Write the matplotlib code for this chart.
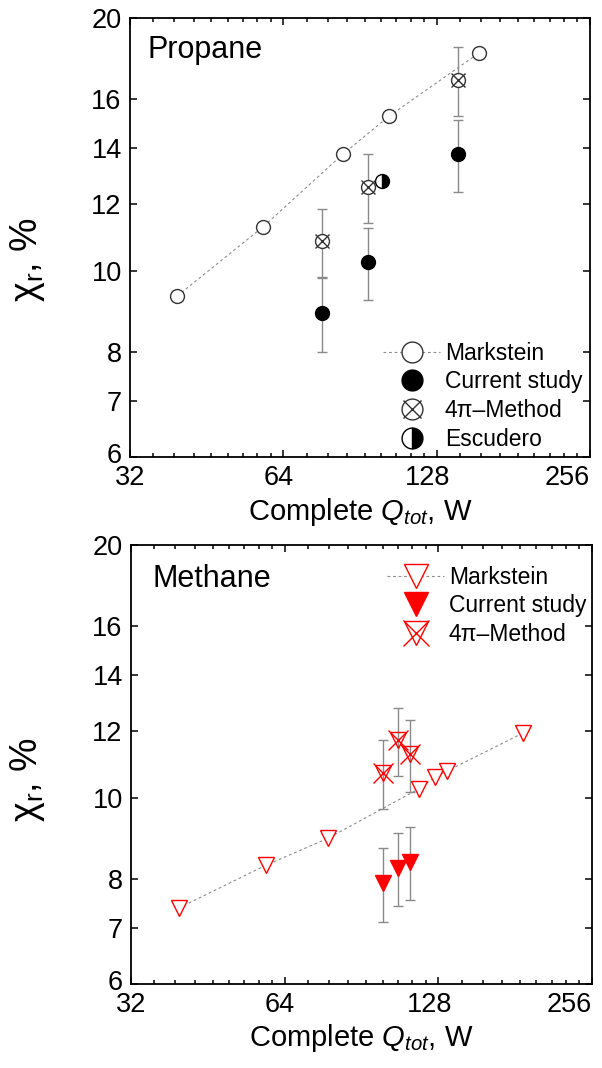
import matplotlib
matplotlib.use('Agg')
import matplotlib.pyplot as plt
from matplotlib.ticker import FixedLocator, FixedFormatter, NullFormatter, NullLocator
from matplotlib.lines import Line2D
from matplotlib.legend_handler import HandlerTuple
from matplotlib.transforms import ScaledTranslation

plt.rcParams['font.family'] = ['Liberation Sans', 'DejaVu Sans']
plt.rcParams['mathtext.fontset'] = 'custom'
plt.rcParams['mathtext.rm'] = 'Liberation Sans'
plt.rcParams['mathtext.it'] = 'Liberation Sans:italic'
plt.rcParams['mathtext.bf'] = 'Liberation Sans:bold'

# ---------------- data ----------------
# Propane
prop_mark_q = [39.6, 58.3, 83.8, 103.2, 155.0]
prop_mark_chi = [9.33, 11.27, 13.77, 15.28, 18.17]
prop_cur_q = [76.3, 93.8, 141.0]
prop_cur_chi = [8.91, 10.24, 13.77]
prop_cur_err = [0.9, 1.0, 1.37]
prop_4pi_q = [76.3, 93.8, 141.0]
prop_4pi_chi = [10.84, 12.59, 16.87]
prop_4pi_err = [1.0, 1.2, 1.6]
prop_esc_q = [100.0]
prop_esc_chi = [12.8]

# Methane
meth_mark_q = [39.7, 58.8, 77.9, 117.3, 126.1, 133.1, 187.4]
meth_mark_chi = [7.39, 8.31, 8.95, 10.25, 10.58, 10.76, 11.94]
meth_cur_q = [99.7, 106.7, 112.6]
meth_cur_chi = [7.92, 8.25, 8.39]
meth_cur_err = [0.8, 0.82, 0.84]
meth_4pi_q = [99.7, 106.7, 112.6]
meth_4pi_chi = [10.7, 11.7, 11.26]
meth_4pi_err = [1.0, 1.1, 1.1]

x_ticks = [32, 64, 128, 256]
y_ticks = [6, 7, 8, 10, 12, 14, 16, 20]
x_minor = [m * (1 + k / 9) for m in (32, 64, 128) for k in range(1, 9)]

legend_labels_prop = ['Markstein', 'Current study', '4\u03c0\u2013Method', 'Escudero']
legend_labels_meth = ['Markstein', 'Current study', '4\u03c0\u2013Method']

# ---------------- figure ----------------
W, H = 602, 1068
fig = plt.figure(figsize=(W / 100, H / 100), dpi=100)
ax1 = fig.add_axes([130 / W, 1 - 457 / H, 460 / W, 439 / H])
ax2 = fig.add_axes([131 / W, 1 - 984 / H, 461 / W, 439 / H])

TICK_FS = 19.5
LEG_FS = 16.5
ERR_C = '#8a8a8a'
RED = '#ff0000'
# horizontal nudges (pixels) of x tick labels, as in the reference
x_label_shift = [0, -5, -9, 0]


def style_axes(ax):
    ax.set_xscale('log', base=2)
    ax.set_yscale('log')
    ax.set_xlim(32, 256)
    ax.set_ylim(6, 20)
    ax.xaxis.set_major_locator(FixedLocator(x_ticks))
    ax.xaxis.set_major_formatter(FixedFormatter([str(t) for t in x_ticks]))
    ax.xaxis.set_minor_locator(FixedLocator(x_minor))
    ax.xaxis.set_minor_formatter(NullFormatter())
    ax.yaxis.set_major_locator(FixedLocator(y_ticks))
    ax.yaxis.set_major_formatter(FixedFormatter([str(t) for t in y_ticks]))
    ax.yaxis.set_minor_locator(NullLocator())
    ax.tick_params(which='both', direction='in', top=True, right=True,
                   labelsize=TICK_FS, width=1.1)
    ax.tick_params(which='major', length=5, pad=6)
    ax.tick_params(which='minor', length=3)
    for s in ax.spines.values():
        s.set_linewidth(1.3)
    ax.set_xlabel('Complete $Q_{tot}$, W', fontsize=21, labelpad=3)
    ticks = ax.xaxis.get_major_ticks()
    for t, dx in zip(ticks, x_label_shift):
        lab = t.label1
        lab.set_transform(lab.get_transform() +
                          ScaledTranslation(dx / 100, 0, fig.dpi_scale_trans))
    ticks[-1].label1.set_horizontalalignment('right')
    # lift the lowest y label a little so it only touches the "32" below it
    ylab = ax.yaxis.get_major_ticks()[0].label1
    ylab.set_transform(ylab.get_transform() +
                       ScaledTranslation(0, 4 / 100, fig.dpi_scale_trans))


style_axes(ax1)
style_axes(ax2)

# ---------- Propane ----------
ax1.errorbar(prop_cur_q, prop_cur_chi, yerr=prop_cur_err, fmt='none',
             ecolor=ERR_C, elinewidth=1, capsize=3.5, capthick=1, zorder=1)
ax1.errorbar(prop_4pi_q, prop_4pi_chi, yerr=prop_4pi_err, fmt='none',
             ecolor=ERR_C, elinewidth=1, capsize=3.5, capthick=1, zorder=1)
ax1.plot(prop_mark_q, prop_mark_chi, linestyle=(0, (2.5, 2.5)), color='#8c8c8c',
         lw=0.8, zorder=2)
ax1.plot(prop_mark_q, prop_mark_chi, 'o', ms=10, mfc='white', mec='#333333',
         mew=1.0, zorder=3)
ax1.plot(prop_cur_q, prop_cur_chi, 'o', ms=10, mfc='black', mec='black', zorder=3)
ax1.plot(prop_4pi_q, prop_4pi_chi, 'o', ms=10, mfc='white', mec='#333333',
         mew=1.0, zorder=3)
ax1.plot(prop_4pi_q, prop_4pi_chi, 'x', ms=9.5, mec='#333333', mew=1.0, zorder=4)
ax1.plot(prop_esc_q, prop_esc_chi, 'o', ms=10, fillstyle='right', mfc='black',
         mfcalt='white', mec='black', mew=1.0, zorder=3)

ax1.text(0.037, 0.909, 'Propane', transform=ax1.transAxes, fontsize=22,
         ha='left', va='baseline')

h_mark = Line2D([], [], linestyle=(0, (2.5, 2.5)), color='#8c8c8c', lw=0.8,
                marker='o', ms=15, mfc='white', mec='#333333', mew=1.0)
h_cur = Line2D([], [], linestyle='none', marker='o', ms=15, mfc='black', mec='black')
h_4a = Line2D([], [], linestyle='none', marker='o', ms=15, mfc='white',
              mec='#333333', mew=1.0)
h_4b = Line2D([], [], linestyle='none', marker='x', ms=13, mec='#333333', mew=1.0)
h_esc = Line2D([], [], linestyle='none', marker='o', ms=15, fillstyle='right',
               mfc='black', mfcalt='white', mec='black', mew=1.0)
ax1.legend([h_mark, h_cur, (h_4a, h_4b), h_esc], legend_labels_prop,
           handler_map={tuple: HandlerTuple(ndivide=1)},
           loc='upper left', bbox_to_anchor=(0.55, 0.263), frameon=False,
           fontsize=LEG_FS, handlelength=2.5, handletextpad=0.2,
           labelspacing=0.25, borderpad=0, borderaxespad=0, numpoints=1)

ax1.text(-0.222, 0.449, '$\\mathregular{\\chi_r}$, %', transform=ax1.transAxes,
         rotation=90, ha='center', va='center', fontsize=27)

# ---------- Methane ----------
ax2.errorbar(meth_cur_q, meth_cur_chi, yerr=meth_cur_err, fmt='none',
             ecolor=ERR_C, elinewidth=1, capsize=3.5, capthick=1, zorder=1)
ax2.errorbar(meth_4pi_q, meth_4pi_chi, yerr=meth_4pi_err, fmt='none',
             ecolor=ERR_C, elinewidth=1, capsize=3.5, capthick=1, zorder=1)
ax2.plot(meth_mark_q, meth_mark_chi, linestyle=(0, (2.5, 2.5)), color='#8c8c8c',
         lw=0.8, zorder=2)
ax2.plot(meth_mark_q, meth_mark_chi, 'v', ms=12, mfc='white', mec=RED,
         mew=1.0, zorder=3)
ax2.plot(meth_cur_q, meth_cur_chi, 'v', ms=12, mfc=RED, mec=RED, zorder=3)
ax2.plot(meth_4pi_q, meth_4pi_chi, 'v', ms=12, mfc='none', mec=RED,
         mew=1.0, zorder=3)
ax2.plot(meth_4pi_q, meth_4pi_chi, 'x', ms=14, mec=RED, mew=1.0, zorder=4)

ax2.text(0.046, 0.904, 'Methane', transform=ax2.transAxes, fontsize=22,
         ha='left', va='baseline')

m_mark = Line2D([], [], linestyle=(0, (2.5, 2.5)), color='#8c8c8c', lw=0.8,
                marker='v', ms=17, mfc='white', mec=RED, mew=1.0)
m_cur = Line2D([], [], linestyle='none', marker='v', ms=17, mfc=RED, mec=RED)
m_4a = Line2D([], [], linestyle='none', marker='v', ms=17, mfc='none', mec=RED, mew=1.0)
m_4b = Line2D([], [], linestyle='none', marker='x', ms=19, mec=RED, mew=1.0)
ax2.legend([m_mark, m_cur, (m_4a, m_4b)], legend_labels_meth,
           handler_map={tuple: HandlerTuple(ndivide=1)},
           loc='upper left', bbox_to_anchor=(0.555, 0.953), frameon=False,
           fontsize=LEG_FS, handlelength=2.5, handletextpad=0.2,
           labelspacing=0.25, borderpad=0, borderaxespad=0, numpoints=1)

ax2.text(-0.224, 0.465, '$\\mathregular{\\chi_r}$, %', transform=ax2.transAxes,
         rotation=90, ha='center', va='center', fontsize=27)

fig.savefig('out.png', dpi=100)
